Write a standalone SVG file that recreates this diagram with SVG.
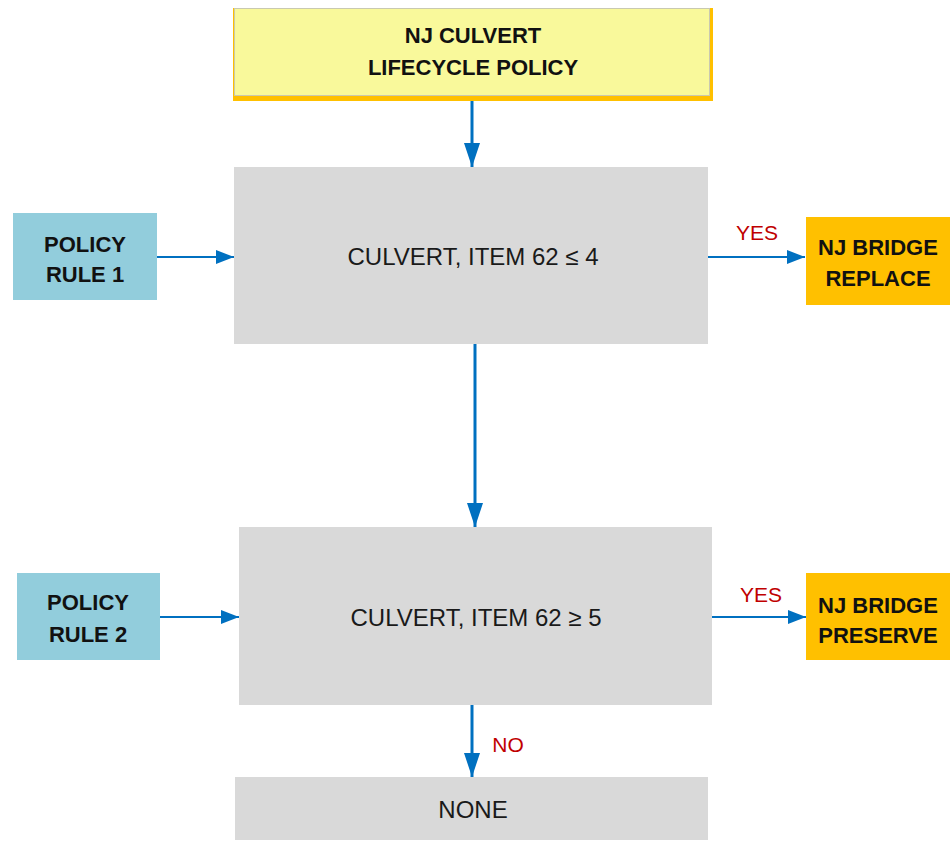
<svg xmlns="http://www.w3.org/2000/svg" width="951" height="841" viewBox="0 0 951 841">
  <style>
    .bg { fill: #ffffff; }
    .step { fill: #d9d9d9; }
    .rule { fill: #92cddc; }
    .action { fill: #ffc000; }
    .label { font-family: "Liberation Sans", Arial, sans-serif; text-anchor: middle; }
    .bold { font-weight: bold; font-size: 22px; fill: #111111; }
    .plain { font-size: 24px; fill: #1a1a1a; }
    .answer { font-size: 21px; fill: #c00000; }
    .flow { stroke: #0070c0; fill: none; }
    .thick { stroke-width: 3; }
    .thin { stroke-width: 2; }
  </style>
  <defs>
    <marker id="headBig" markerUnits="userSpaceOnUse" markerWidth="24" markerHeight="16" refX="24" refY="8" orient="auto">
      <path d="M0,0 L24,8 L0,16 z" fill="#0070c0"/>
    </marker>
    <marker id="headSmall" markerUnits="userSpaceOnUse" markerWidth="18" markerHeight="14" refX="18" refY="7" orient="auto">
      <path d="M0,0 L18,7 L0,14 z" fill="#0070c0"/>
    </marker>
  </defs>

  <rect class="bg" x="0" y="0" width="951" height="841"/>

  <!-- connectors -->
  <g id="connectors">
    <line class="flow thick" x1="472" y1="101" x2="472" y2="167" marker-end="url(#headBig)"/>
    <line class="flow thick" x1="475" y1="344" x2="475" y2="527" marker-end="url(#headBig)"/>
    <line class="flow thick" x1="472" y1="705" x2="472" y2="777" marker-end="url(#headBig)"/>
    <line class="flow thin" x1="157" y1="257" x2="234" y2="257" marker-end="url(#headSmall)"/>
    <line class="flow thin" x1="708" y1="257" x2="805" y2="257" marker-end="url(#headSmall)"/>
    <line class="flow thin" x1="160" y1="617" x2="239" y2="617" marker-end="url(#headSmall)"/>
    <line class="flow thin" x1="712" y1="617" x2="806" y2="617" marker-end="url(#headSmall)"/>
    <text class="label answer" x="757" y="240">YES</text>
    <text class="label answer" x="761" y="602">YES</text>
    <text class="label answer" x="508" y="752" font-size="23">NO</text>
  </g>

  <!-- title -->
  <g id="policy-title">
    <rect x="233" y="8" width="480" height="93" fill="#ffc000"/>
    <rect x="234.5" y="8.5" width="475" height="87" fill="#f9f99b" stroke="#c9c9b0" stroke-width="1"/>
    <text class="label bold" x="473" y="43">NJ CULVERT</text>
    <text class="label bold" x="473" y="75">LIFECYCLE POLICY</text>
  </g>

  <!-- first check -->
  <g id="check-low">
    <rect class="step" x="234" y="167" width="474" height="177"/>
    <text class="label plain" x="473" y="265">CULVERT, ITEM 62 ≤ 4</text>
  </g>

  <g id="rule-1">
    <rect class="rule" x="13" y="213" width="144" height="87"/>
    <text class="label bold" x="85" y="252">POLICY</text>
    <text class="label bold" x="85" y="282">RULE 1</text>
  </g>

  <g id="replace">
    <rect class="action" x="806" y="217" width="144" height="88"/>
    <text class="label bold" x="878" y="255">NJ BRIDGE</text>
    <text class="label bold" x="878" y="286">REPLACE</text>
  </g>

  <!-- second check -->
  <g id="check-high">
    <rect class="step" x="239" y="527" width="473" height="178"/>
    <text class="label plain" x="476" y="626">CULVERT, ITEM 62 ≥ 5</text>
  </g>

  <g id="rule-2">
    <rect class="rule" x="17" y="573" width="143" height="87"/>
    <text class="label bold" x="88" y="610">POLICY</text>
    <text class="label bold" x="88" y="642">RULE 2</text>
  </g>

  <g id="preserve">
    <rect class="action" x="806" y="573" width="144" height="87"/>
    <text class="label bold" x="878" y="613">NJ BRIDGE</text>
    <text class="label bold" x="878" y="643">PRESERVE</text>
  </g>

  <!-- fallthrough -->
  <g id="none">
    <rect class="step" x="235" y="777" width="473" height="63"/>
    <text class="label plain" x="473" y="818">NONE</text>
  </g>
</svg>
